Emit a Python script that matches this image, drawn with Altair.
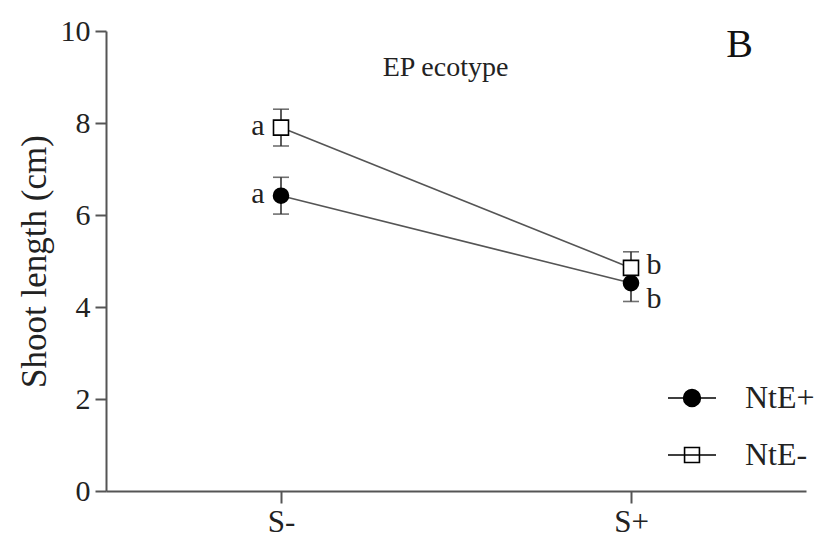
import altair as alt
import pandas as pd

# ---- data ----
series = ["NtE+", "NtE+", "NtE-", "NtE-"]
treatment = ["S-", "S+", "S-", "S+"]
xpos = [1, 3, 1, 3]              # category positions on the x axis (S- = 1, S+ = 3)
means = [6.42, 4.52, 7.90, 4.85]
errs = [0.40, 0.40, 0.40, 0.35]
letters = ["a", "b", "a", "b"]

tick_vals = [1, 3]
tick_labels = ["S-", "S+"]

df = pd.DataFrame({
    "series": series, "treatment": treatment, "x": xpos,
    "mean": means, "lo": [m - e for m, e in zip(means, errs)],
    "hi": [m + e for m, e in zip(means, errs)], "letter": letters,
})

FONT = "Liberation Serif"
TXT = "#222"

xscale = alt.Scale(domain=[0, 4], nice=False)
yscale = alt.Scale(domain=[0, 10], nice=False)

xaxis = alt.Axis(values=tick_vals, labelExpr="datum.value == 1 ? 'S-' : 'S+'",
                 title=None, grid=False, tickSize=12, labelFontSize=31, labelFont=FONT,
                 labelColor=TXT, domainColor="#555", tickColor="#555",
                 domainWidth=2, tickWidth=2, labelPadding=4)
yaxis = alt.Axis(values=[0, 2, 4, 6, 8, 10], title="Shoot length (cm)", grid=False,
                 tickSize=11, labelFontSize=30, labelFont=FONT, labelColor=TXT,
                 titleFont=FONT, titleFontSize=35, titleFontWeight="normal",
                 titleColor=TXT, titlePadding=8,
                 domainColor="#555", tickColor="#555", domainWidth=2, tickWidth=2,
                 labelPadding=5)

base = alt.Chart(df)

lines = base.mark_line(color="#555", strokeWidth=1.6).encode(
    x=alt.X("x:Q", scale=xscale, axis=xaxis),
    y=alt.Y("mean:Q", scale=yscale, axis=yaxis),
    detail="series:N",
)

rules = base.mark_rule(color="#333", strokeWidth=1.6).encode(
    x="x:Q", y="lo:Q", y2="hi:Q")
cap_lo = base.mark_tick(color="#333", thickness=1.6, size=16, orient="horizontal").encode(
    x="x:Q", y="lo:Q")
cap_hi = base.mark_tick(color="#333", thickness=1.6, size=16, orient="horizontal").encode(
    x="x:Q", y="hi:Q")

points = base.mark_point(size=225, strokeWidth=1.6, stroke="black", opacity=1).encode(
    x="x:Q", y="mean:Q",
    shape=alt.condition("datum.series == 'NtE+'", alt.value("circle"), alt.value("square")),
    fill=alt.condition("datum.series == 'NtE+'", alt.value("black"), alt.value("white")),
)

# legend only (no drawn data)
circ_path = "M-1,0H-0.35A0.35,0.35 0 1 1 0.35,0H1M0.35,0A0.35,0.35 0 1 1 -0.35,0"
sq_path = "M-1,0H1M-0.31,-0.31H0.31V0.31H-0.31Z"
legend_domain = ["NtE+", "NtE-"]


def make_legend():
    return alt.Legend(title=None, orient="none", legendX=561, legendY=342,
                      symbolSize=2304, symbolStrokeWidth=1.6,
                      labelFont=FONT, symbolOpacity=1,
                      labelFontSize=32, labelColor=TXT, labelOffset=28,
                      rowPadding=8, padding=0)


legend_layer = base.mark_point(filled=True, strokeWidth=1.6, opacity=1).encode(
    x="x:Q", y="mean:Q",
    shape=alt.Shape("series:N", scale=alt.Scale(domain=legend_domain, range=[circ_path, sq_path]),
                    legend=make_legend()),
    fill=alt.Fill("series:N", scale=alt.Scale(domain=legend_domain, range=["black", "white"]),
                  legend=make_legend()),
    stroke=alt.Stroke("series:N", scale=alt.Scale(domain=legend_domain, range=["black", "black"]),
                      legend=make_legend()),
).transform_filter("false")

letters_a = base.mark_text(font=FONT, fontSize=30, color=TXT, dx=-23, dy=-2, baseline="middle").encode(
    x="x:Q", y="mean:Q", text="letter:N").transform_filter("datum.treatment == 'S-'")
letters_b1 = base.mark_text(font=FONT, fontSize=30, color=TXT, dx=23, dy=-3, baseline="middle").encode(
    x="x:Q", y="mean:Q", text="letter:N").transform_filter("datum.treatment == 'S+' && datum.series == 'NtE-'")
letters_b2 = base.mark_text(font=FONT, fontSize=30, color=TXT, dx=23, dy=16, baseline="middle").encode(
    x="x:Q", y="mean:Q", text="letter:N").transform_filter("datum.treatment == 'S+' && datum.series == 'NtE+'")

ann_text = ["EP ecotype", "B"]
ann_x = [1.94, 3.62]
ann_y = [9.2, 9.7]
ann = pd.DataFrame({"x": ann_x, "y": ann_y, "t": ann_text})
ann1 = alt.Chart(ann).transform_filter("datum.t == 'EP ecotype'").mark_text(
    font=FONT, fontSize=28, color=TXT, baseline="middle").encode(x="x:Q", y="y:Q", text="t:N")
ann2 = alt.Chart(ann).transform_filter("datum.t == 'B'").mark_text(
    font=FONT, fontSize=40, color="#111", baseline="middle").encode(x="x:Q", y="y:Q", text="t:N")

chart = alt.layer(lines, rules, cap_lo, cap_hi, points, legend_layer,
                  letters_a, letters_b1, letters_b2, ann1, ann2).properties(
    width=700, height=460,
    autosize=alt.AutoSizeParams(type="none"),
    padding={"left": 98, "top": 23, "right": 8, "bottom": 52},
).configure(background="white").configure_view(stroke=None)

chart = chart.configure_legend(rowPadding=16)
spec = chart.to_dict()
for enc_key in ("shape", "fill", "stroke"):
    spec["layer"][5]["encoding"][enc_key]["legend"]["rowPadding"] = 16
chart = alt.Chart.from_dict(spec) if False else alt.LayerChart.from_dict(spec)

chart.save("out.html", embed_options={"renderer": "svg", "actions": False})
